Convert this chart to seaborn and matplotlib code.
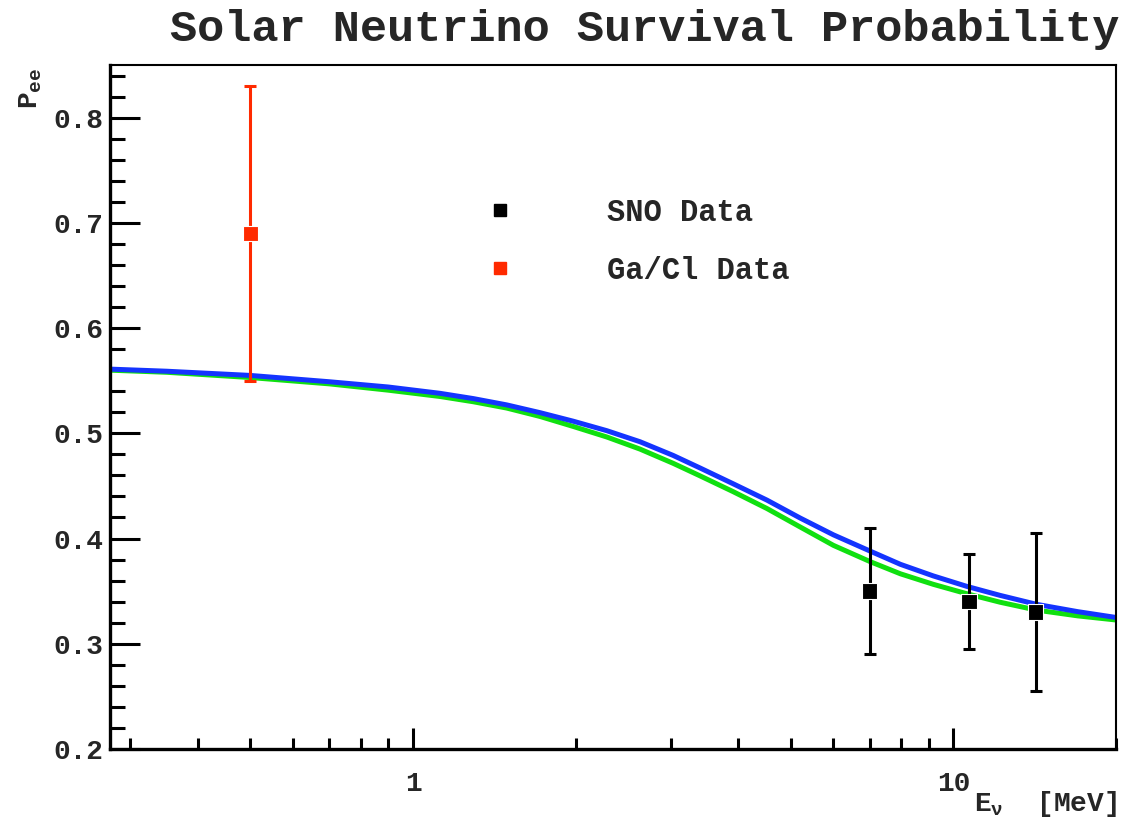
import numpy as np
import pandas as pd
import matplotlib
matplotlib.use("Agg")
import matplotlib.pyplot as plt
from matplotlib.lines import Line2D
from matplotlib.ticker import FixedLocator, NullFormatter, FixedFormatter
import seaborn as sns

# ---------------- data ----------------
curve_energy = [0.275, 0.35, 0.5, 0.7, 0.9, 1.122, 1.293, 1.491, 1.719, 1.98, 2.284, 2.631,
                3.03, 3.40, 3.915, 4.52, 5.206, 6.0, 7.02, 7.98, 9.18, 10.6, 12.2, 14.25, 17.0, 20.0]
blue_pee = [0.561, 0.559, 0.555, 0.549, 0.544, 0.538, 0.533, 0.527, 0.5196, 0.5115, 0.5025, 0.492,
            0.479, 0.467, 0.452, 0.4365, 0.4195, 0.4035, 0.388, 0.3755, 0.3645, 0.3545, 0.346,
            0.3375, 0.3305, 0.325]
green_pee = [0.560, 0.558, 0.553, 0.547, 0.541, 0.535, 0.530, 0.524, 0.516, 0.5065, 0.4965, 0.485,
             0.4715, 0.4595, 0.4445, 0.4285, 0.411, 0.3935, 0.378, 0.3665, 0.3565, 0.3475, 0.3395,
             0.332, 0.3265, 0.3226]

sno_energy = [7.0, 10.7, 14.2]
sno_pee = [0.35, 0.34, 0.33]
sno_err_low = [0.06, 0.045, 0.075]
sno_err_high = [0.06, 0.045, 0.075]

gacl_energy = [0.5]
gacl_pee = [0.69]
gacl_err_low = [0.14]
gacl_err_high = [0.14]

legend_labels = ["SNO Data", "Ga/Cl Data"]
title_text = "Solar Neutrino Survival Probability"
y_major = [0.2, 0.3, 0.4, 0.5, 0.6, 0.7, 0.8]
y_labels = ["0.2", "0.3", "0.4", "0.5", "0.6", "0.7", "0.8"]
x_major = [1, 10]
x_labels = ["1", "10"]

# ---------------- style ----------------
sns.set_style("white")
FONT = "Liberation Mono"
plt.rcParams["font.family"] = [FONT, "DejaVu Sans"]
plt.rcParams["font.weight"] = "bold"
plt.rcParams["mathtext.fontset"] = "custom"
plt.rcParams["mathtext.rm"] = "Liberation Mono:bold"
plt.rcParams["mathtext.it"] = "Liberation Mono:bold"
plt.rcParams["mathtext.bf"] = "Liberation Mono:bold"

BLUE = "#1434ff"
GREEN = "#10e010"
RED = "#ff2a00"

fig = plt.figure(figsize=(11.24, 8.17), dpi=100)
ax = fig.add_axes([110 / 1124, 1 - 749 / 817, (1116 - 110) / 1124, (749 - 65) / 817])

curves = pd.DataFrame({"E": curve_energy + curve_energy,
                       "P": green_pee + blue_pee,
                       "model": ["green"] * len(curve_energy) + ["blue"] * len(curve_energy)})
sns.lineplot(data=curves, x="E", y="P", hue="model", palette={"green": GREEN, "blue": BLUE},
             hue_order=["green", "blue"], linewidth=3.6, legend=False, ax=ax,
             estimator=None, sort=True)
for ln in ax.lines:
    ln.set_solid_joinstyle("round")
    ln.set_solid_capstyle("butt")

ax.set_xscale("log")

# error bars
ax.errorbar(sno_energy, sno_pee, yerr=[sno_err_low, sno_err_high], fmt="none",
            ecolor="black", elinewidth=2.2, capsize=4.5, capthick=2.2, zorder=4)
ax.errorbar(gacl_energy, gacl_pee, yerr=[gacl_err_low, gacl_err_high], fmt="none",
            ecolor=RED, elinewidth=2.2, capsize=4.5, capthick=2.2, zorder=4)

pts = pd.DataFrame({"E": sno_energy + gacl_energy,
                    "P": sno_pee + gacl_pee,
                    "set": [legend_labels[0]] * len(sno_energy) + [legend_labels[1]] * len(gacl_energy)})
sns.scatterplot(data=pts, x="E", y="P", hue="set",
                palette={legend_labels[0]: "black", legend_labels[1]: RED},
                marker="s", s=125, edgecolor="white", linewidth=0.8, legend=False, ax=ax, zorder=5)

ax.set_xlim(0.275, 20)
ax.set_ylim(0.2, 0.85)

# ticks
ax.xaxis.set_major_locator(FixedLocator(x_major))
ax.xaxis.set_major_formatter(FixedFormatter(x_labels))
ax.xaxis.set_minor_locator(FixedLocator([0.3, 0.4, 0.5, 0.6, 0.7, 0.8, 0.9,
                                         2, 3, 4, 5, 6, 7, 8, 9, 20]))
ax.xaxis.set_minor_formatter(NullFormatter())
ax.yaxis.set_major_locator(FixedLocator(y_major))
ax.yaxis.set_major_formatter(FixedFormatter(y_labels))
ax.yaxis.set_minor_locator(FixedLocator(np.arange(0.2, 0.851, 0.02)))

ax.tick_params(axis="both", which="both", direction="in", color="black",
               bottom=True, left=True, top=False, right=False, width=2.2,
               labelsize=20)
ax.tick_params(axis="x", which="major", length=15, pad=16)
ax.tick_params(axis="x", which="minor", length=8)
ax.tick_params(axis="y", which="major", length=21.5, pad=5)
ax.tick_params(axis="y", which="minor", length=11)
for lab in ax.get_xticklabels() + ax.get_yticklabels():
    lab.set_fontweight("bold")

for side in ["left", "bottom"]:
    ax.spines[side].set_linewidth(2.4)
    ax.spines[side].set_color("black")
for side in ["right", "top"]:
    ax.spines[side].set_linewidth(1.5)
    ax.spines[side].set_color("black")

ax.set_xlabel("")
ax.set_ylabel("")

# axis labels (ROOT style placement)
fig.text(1117 / 1124, 1 - 811 / 817, r"E$_{\nu}$  [MeV]", ha="right", va="baseline",
         fontsize=20, fontweight="bold")
fig.text(31 / 1124, 1 - 88 / 817, r"P$_{ee}$", ha="center", va="center", rotation=90,
         fontsize=20, fontweight="bold")

# title
fig.text(1119 / 1124, 1 - 41 / 817, title_text, ha="right", va="baseline",
         fontsize=32.6, fontweight="bold")

# legend
handles = [Line2D([], [], marker="s", linestyle="none", color="black", markersize=9),
           Line2D([], [], marker="s", linestyle="none", color=RED, markersize=9)]
leg = ax.legend(handles, legend_labels, loc="upper left",
                bbox_to_anchor=((485 - 110) / 1006, (749 - 198) / 684),
                frameon=False, handlelength=1.0, handletextpad=3.0, labelspacing=0.92,
                borderpad=0, borderaxespad=0,
                prop={"family": FONT, "weight": "bold", "size": 22})

fig.savefig("out.png", dpi=100)
